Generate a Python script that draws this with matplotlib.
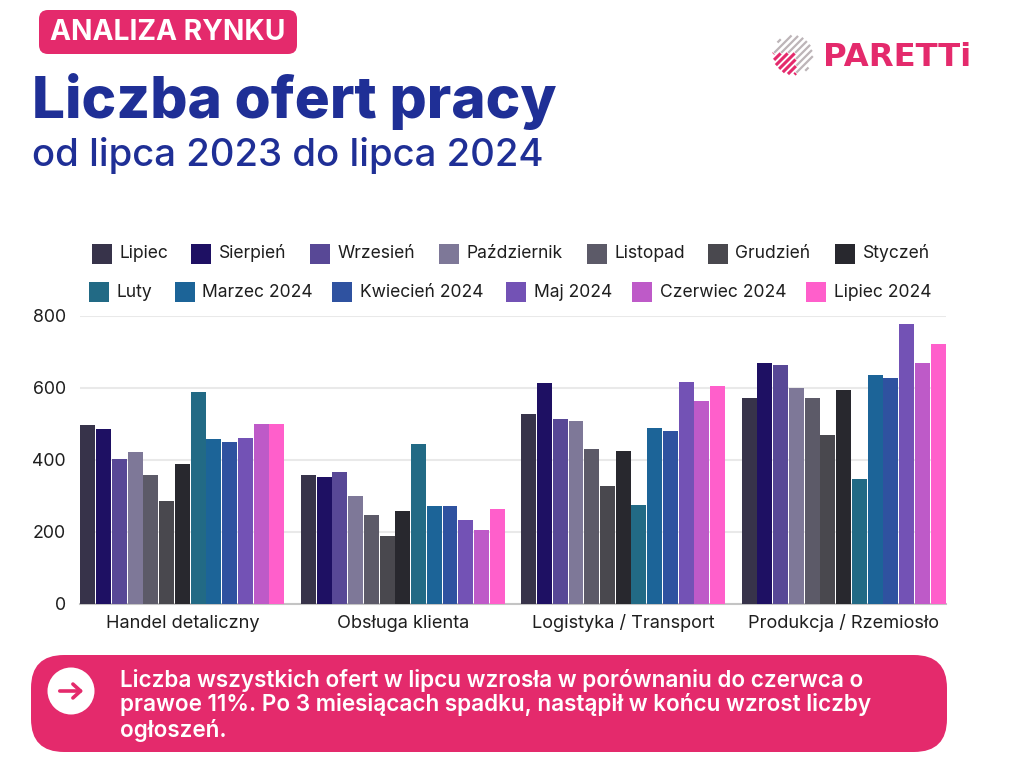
import numpy as np
import matplotlib
matplotlib.use('Agg')
import matplotlib.pyplot as plt
from matplotlib.patches import FancyBboxPatch, Rectangle, Circle

plt.rcParams['font.family'] = ['Inter', 'DejaVu Sans']

# data
categories = ['Handel detaliczny', 'Obsługa klienta', 'Logistyka / Transport', 'Produkcja / Rzemiosło']
months = ['Lipiec', 'Sierpień', 'Wrzesień', 'Październik', 'Listopad', 'Grudzień', 'Styczeń',
          'Luty', 'Marzec 2024', 'Kwiecień 2024', 'Maj 2024', 'Czerwiec 2024', 'Lipiec 2024']
handel = [497, 485, 403, 422, 358, 286, 388, 589, 458, 451, 461, 500, 500]
obsluga = [359, 353, 368, 300, 247, 188, 259, 445, 272, 273, 232, 206, 265]
logistyka = [528, 613, 513, 508, 430, 329, 425, 275, 490, 481, 616, 563, 606]
produkcja = [573, 669, 665, 601, 572, 470, 594, 347, 635, 627, 778, 669, 721]
y_ticks = [0, 200, 400, 600, 800]

colors = ['#37334A', '#1E1063', '#584896', '#7E7898', '#5C5A68', '#49484E', '#28282E',
          '#226A85', '#1C6498', '#2F52A0', '#7352B5', '#BE5AC8', '#FF5FCB']
PINK = '#E42A6C'
NAVY = '#1F2F96'
INK = '#1E1E1E'

W, H = 1024, 768
fig = plt.figure(figsize=(W / 100, H / 100), dpi=100, facecolor='white')

# overlay in pixel coordinates for the poster elements
bg = fig.add_axes([0, 0, 1, 1])
bg.set_xlim(0, W)
bg.set_ylim(H, 0)
bg.axis('off')

# chart axes
left, right, top, bottom = 80, 946, 316, 604
ax = fig.add_axes([left / W, 1 - bottom / H, (right - left) / W, (bottom - top) / H])
ax.patch.set_alpha(0)

values = np.array([handel, obsluga, logistyka, produkcja])
group_step = len(months) + 1
for j, (month, color) in enumerate(zip(months, colors)):
    x = np.arange(len(categories)) * group_step + j
    ax.bar(x, values[:, j], width=0.95, color=color, label=month, zorder=3)

ax.set_xlim(-0.5, group_step * 3 + len(months) - 0.5)
ax.set_ylim(0, 800)
ax.set_yticks(y_ticks)
ax.set_xticks(np.arange(len(categories)) * group_step + (len(months) - 1) / 2)
ax.set_xticklabels(categories, va='baseline')
ax.tick_params(axis='x', length=0, labelsize=13.1, labelcolor=INK, pad=17)
ax.tick_params(axis='y', length=0, labelsize=12.8, labelcolor=INK, pad=10)
ax.grid(axis='y', color='#E9E9E9', lw=1.5, zorder=0)
ax.set_axisbelow(True)
for s in ['top', 'right', 'left']:
    ax.spines[s].set_visible(False)
ax.spines['bottom'].set_color('#C4C4C4')
ax.spines['bottom'].set_linewidth(1.5)
ax.spines['bottom'].set_zorder(2)

# legend, two centred rows
row1_x = [92, 191, 310, 439, 587, 708, 835]
row2_x = [89, 175, 332, 506, 632, 806]
for k, x0 in enumerate(row1_x + row2_x):
    yc = 253.5 if k < 7 else 292
    bg.add_patch(Rectangle((x0, yc - 10), 20, 20, fc=colors[k], ec='none'))
    bg.text(x0 + 27.5, yc + 5, months[k], fontsize=12.6, color=INK, va='baseline', ha='left')

# header
bg.add_patch(FancyBboxPatch((47, 18), 242, 28, boxstyle='round,pad=8,rounding_size=9',
                            fc=PINK, ec='none'))
bg.text(168, 32.5, 'ANALIZA RYNKU', fontsize=20.3, fontweight='bold', color='white',
        ha='center', va='center')
bg.text(32, 118, 'Liczba ofert pracy', fontsize=42.1, fontweight='heavy', color=NAVY,
        ha='left', va='baseline')
bg.text(32, 166, 'od lipca 2023 do lipca 2024', fontsize=27.6, fontweight='medium', color=NAVY,
        ha='left', va='baseline')

# logo
lx, ly, lr = 793, 55, 20
t = np.linspace(0, 1, 120)
for off in np.arange(-35, 36, 7):
    px = lx - 28 + off + t * 56
    py = ly + 28 - t * 56
    inside = (px - lx) ** 2 + (py - ly) ** 2 < lr ** 2
    is_pink = inside & (px < lx + 3) & (py > ly - 2)
    is_grey = inside & ~is_pink
    if is_grey.any():
        bg.plot(px[is_grey], py[is_grey], color='#BDB5B8', lw=1.6, solid_capstyle='butt')
    if is_pink.any():
        bg.plot(px[is_pink], py[is_pink], color=PINK, lw=2.2, solid_capstyle='butt')
bg.text(823, 57, 'PARETTi', fontsize=23.2, fontweight='bold', family='DejaVu Sans', color=PINK,
        ha='left', va='center')

# callout
bg.add_patch(FancyBboxPatch((64, 688), 850, 31, boxstyle='round,pad=33,rounding_size=33',
                            fc=PINK, ec='none'))
bg.add_patch(Circle((71, 691), 23.5, fc='white', ec='none'))
bg.annotate('', xy=(86, 691), xytext=(57, 691),
            arrowprops=dict(arrowstyle='->,head_length=0.55,head_width=0.5', color=PINK, lw=2.6))
callout_lines = ['Liczba wszystkich ofert w lipcu wzrosła w porównaniu do czerwca o',
                 'prawoe 11%. Po 3 miesiącach spadku, nastąpił w końcu wzrost liczby',
                 'ogłoszeń.']
for i, line in enumerate(callout_lines):
    bg.text(120, 686.5 + i * 25, line, fontsize=16.2, fontweight='semibold', color='white',
            ha='left', va='baseline')

fig.savefig('out.png', dpi=100)
